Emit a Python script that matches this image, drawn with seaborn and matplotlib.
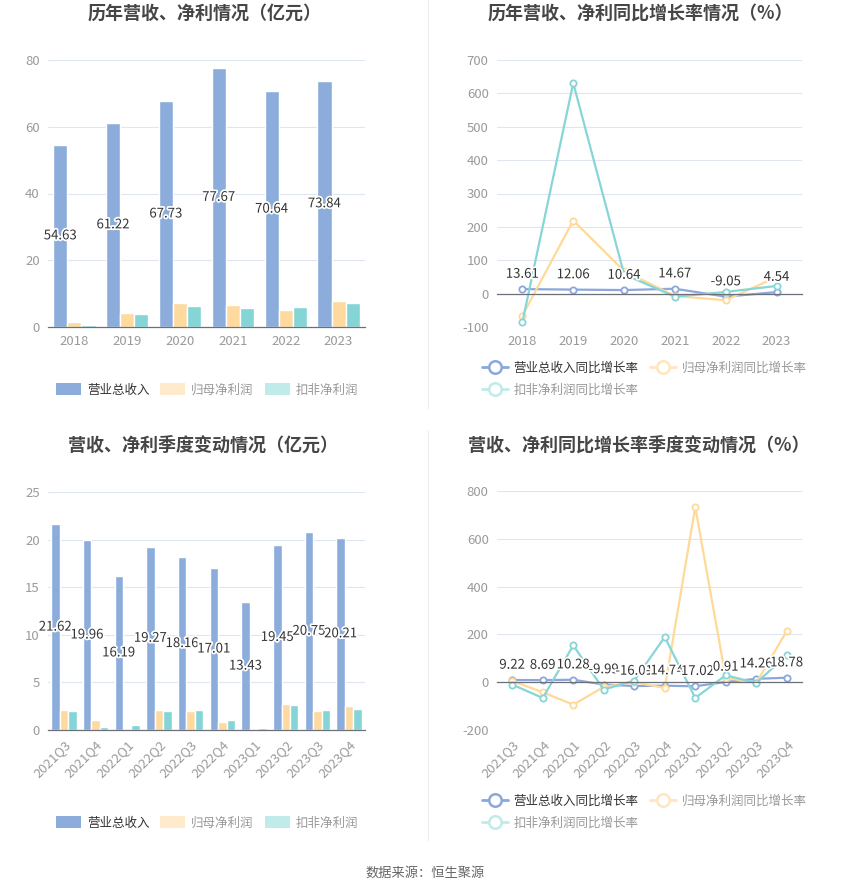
import matplotlib
matplotlib.use('Agg')
import numpy as np
import pandas as pd
import matplotlib.pyplot as plt
import seaborn as sns
from matplotlib import patheffects
from matplotlib.lines import Line2D
from matplotlib.patches import Patch

# ---- data (亿元 / %) ----
years = ['2018', '2019', '2020', '2021', '2022', '2023']
revenue = [54.63, 61.22, 67.73, 77.67, 70.64, 73.84]
net_profit = [1.4, 4.3, 7.2, 6.6, 5.2, 7.7]
deducted_profit = [0.5, 4.0, 6.3, 5.7, 6.0, 7.3]

revenue_yoy = [13.61, 12.06, 10.64, 14.67, -9.05, 4.54]
net_profit_yoy = [-66, 219, 68, -7, -20, 50]
deducted_yoy = [-85, 631, 58, -9, 5, 23]

quarters = ['2021Q3', '2021Q4', '2022Q1', '2022Q2', '2022Q3',
            '2022Q4', '2023Q1', '2023Q2', '2023Q3', '2023Q4']
q_revenue = [21.62, 19.96, 16.19, 19.27, 18.16, 17.01, 13.43, 19.45, 20.75, 20.21]
q_net_profit = [2.1, 1.05, 0.03, 2.1, 2.03, 0.8, 0.1, 2.73, 2.03, 2.55]
q_deducted = [2.0, 0.31, 0.52, 2.03, 2.06, 1.01, 0.17, 2.62, 2.06, 2.2]

q_revenue_yoy = [9.22, 8.69, 10.28, -9.99, -16.01, -14.74, -17.02, 0.91, 14.26, 18.78]
q_net_profit_yoy = [5, -42, -94, -20, 0, -24, 733, 18, -3, 214]
q_deducted_yoy = [-10, -66, 154, -31, 7, 189, -66, 29, -3, 113]

bar_names = ['营业总收入', '归母净利润', '扣非净利润']
line_names = ['营业总收入同比增长率', '归母净利润同比增长率', '扣非净利润同比增长率']

# ---- style ----
BAR_COLORS = ['#8CACDB', '#FFDA9F', '#85D4D6']
LINE_COLORS = ['#8BA7DB', '#FFD998', '#88D5D7']
LEGEND_COLORS = ['#8CACDB', '#FFEACB', '#C1EAEB']
LEGEND_TEXT = ['#333333', '#999999', '#999999']
GRID = '#E0E6F1'
AXIS = '#6E7079'
TICK = '#9A9A9A'
TITLE = '#464646'

sns.set_theme(style='white')
plt.rcParams['font.family'] = ['Noto Sans CJK SC', 'DejaVu Sans']
plt.rcParams['axes.unicode_minus'] = False

W, H = 850, 890
fig = plt.figure(figsize=(W / 100, H / 100), dpi=100)


def px_axes(left, top, right, bottom):
    return fig.add_axes([left / W, 1 - bottom / H, (right - left) / W, (bottom - top) / H])


def long_frame(cats, series, names, cat_col):
    rows = []
    for name, vals in zip(names, series):
        for c, v in zip(cats, vals):
            rows.append({cat_col: c, 'series': name, 'value': v})
    return pd.DataFrame(rows)


def style_axis(ax, ticks, rotate=False):
    ax.set_ylim(ticks[0], ticks[-1])
    ax.set_yticks(ticks)
    ax.yaxis.grid(True, color=GRID, linewidth=0.8)
    ax.xaxis.grid(False)
    ax.set_axisbelow(True)
    for s in ['top', 'right', 'left']:
        ax.spines[s].set_visible(False)
    ax.spines['bottom'].set_color(AXIS)
    ax.spines['bottom'].set_linewidth(0.9)
    ax.spines['bottom'].set_position(('data', 0))
    ax.set_xlabel('')
    ax.set_ylabel('')
    ax.tick_params(axis='y', length=0, colors=TICK, labelsize=9.5, pad=6)
    # labels sit at the bottom of the axes even when the zero line is higher up
    height_pts = ax.get_position().height * H * 72 / 100
    dist = (0 - ticks[0]) / (ticks[-1] - ticks[0]) * height_pts
    ax.tick_params(axis='x', length=3.5, width=0.9, color=AXIS, direction='out',
                   labelcolor=TICK, labelsize=9.5, pad=dist + 2.5)
    if rotate:
        for lab in ax.get_xticklabels():
            lab.set_rotation(45)
            lab.set_ha('right')
            lab.set_rotation_mode('anchor')


def bar_panel(ax, cats, series, cat_col, ticks, rotate=False):
    df = long_frame(cats, series, bar_names, cat_col)
    sns.barplot(data=df, x=cat_col, y='value', hue='series', hue_order=bar_names,
                palette=BAR_COLORS, saturation=1, width=0.8, edgecolor='white',
                linewidth=1, legend=False, ax=ax)
    ax.bar_label(ax.containers[0], labels=[f'{v:.2f}' for v in series[0]],
                 label_type='center', fontsize=9.5, color='#333333',
                 path_effects=[patheffects.withStroke(linewidth=2.5, foreground='white')])
    style_axis(ax, ticks, rotate)


def line_panel(ax, cats, series, cat_col, ticks, rotate=False):
    df = long_frame(cats, series, line_names, cat_col)
    sns.pointplot(data=df, x=cat_col, y='value', hue='series', hue_order=line_names,
                  palette=LINE_COLORS, markers='o', errorbar=None, legend=False, ax=ax,
                  linewidth=1.6, markersize=4.5, markerfacecolor='white',
                  markeredgewidth=1.3)
    for line in ax.lines:
        line.set_markeredgecolor(line.get_color())
        line.set_markerfacecolor('white')
    for i, v in enumerate(series[0]):
        ax.annotate(f'{v:.2f}', (i, v), xytext=(0, 6), textcoords='offset points',
                    ha='center', va='bottom', fontsize=9.5, color='#333333',
                    path_effects=[patheffects.withStroke(linewidth=2.5, foreground='white')],
                    zorder=10)
    style_axis(ax, ticks, rotate)


def bar_legend(ax, cx, cy):
    handles = [Patch(facecolor=c, edgecolor='none') for c in LEGEND_COLORS]
    leg = ax.legend(handles, bar_names, loc='center', bbox_to_anchor=(cx / W, 1 - cy / H),
                    bbox_transform=fig.transFigure, ncol=3, frameon=False, fontsize=9,
                    handlelength=2.0, handleheight=1.1, handletextpad=0.5,
                    columnspacing=0.85)
    for t, c in zip(leg.get_texts(), LEGEND_TEXT):
        t.set_color(c)


def line_legend(ax, cx, cy):
    colors = [LINE_COLORS[0], '#FFE6BE', '#C1EAEB']
    handles = [Line2D([0], [0], color=c, marker='o', markersize=9, markerfacecolor='white',
                      markeredgewidth=1.8, linewidth=2) for c in colors]
    # legend fills column by column; reorder so rows read 1,2 / 3
    order = [0, 2, 1]
    leg = ax.legend([handles[k] for k in order], [line_names[k] for k in order],
                    loc='center', bbox_to_anchor=(cx / W, 1 - cy / H),
                    bbox_transform=fig.transFigure, ncol=2, frameon=False, fontsize=9,
                    handlelength=2.1, handletextpad=0.45, columnspacing=0.9,
                    labelspacing=0.75)
    for t, k in zip(leg.get_texts(), order):
        t.set_color(LEGEND_TEXT[k])


# ---- panels ----
ax1 = px_axes(48, 60, 365, 327)
bar_panel(ax1, years, [revenue, net_profit, deducted_profit], 'year', [0, 20, 40, 60, 80])
bar_legend(ax1, 207, 390)

ax2 = px_axes(497, 60, 802, 327)
line_panel(ax2, years, [revenue_yoy, net_profit_yoy, deducted_yoy], 'year',
           [-100, 0, 100, 200, 300, 400, 500, 600, 700])
line_legend(ax2, 644, 379)

ax3 = px_axes(48, 492, 365, 730)
bar_panel(ax3, quarters, [q_revenue, q_net_profit, q_deducted], 'quarter',
          [0, 5, 10, 15, 20, 25], rotate=True)
bar_legend(ax3, 207, 823)

ax4 = px_axes(497, 491, 802, 730)
line_panel(ax4, quarters, [q_revenue_yoy, q_net_profit_yoy, q_deducted_yoy], 'quarter',
           [-200, 0, 200, 400, 600, 800], rotate=True)
line_legend(ax4, 644, 812)

# ---- titles, separators, source ----
fig.text(205 / W, 1 - 13 / H, '历年营收、净利情况（亿元）', ha='center', va='center',
         fontsize=13, fontweight='bold', color=TITLE)
fig.text(640 / W, 1 - 13 / H, '历年营收、净利同比增长率情况（%）', ha='center', va='center',
         fontsize=13, fontweight='bold', color=TITLE)
fig.text(203 / W, 1 - 445 / H, '营收、净利季度变动情况（亿元）', ha='center', va='center',
         fontsize=13, fontweight='bold', color=TITLE)
fig.text(639 / W, 1 - 445 / H, '营收、净利同比增长率季度变动情况（%）', ha='center', va='center',
         fontsize=13, fontweight='bold', color=TITLE)

fig.add_artist(Line2D([428 / W, 428 / W], [1, 1 - 408 / H], transform=fig.transFigure,
                      color='#EEEEEE', linewidth=0.8))
fig.add_artist(Line2D([428 / W, 428 / W], [1 - 430 / H, 1 - 840 / H], transform=fig.transFigure,
                      color='#EEEEEE', linewidth=0.8))

fig.text(0.5, 1 - 873 / H, '数据来源：恒生聚源', ha='center', va='center',
         fontsize=9.5, color='#666666')

fig.savefig('out.png', dpi=100, facecolor='white')
